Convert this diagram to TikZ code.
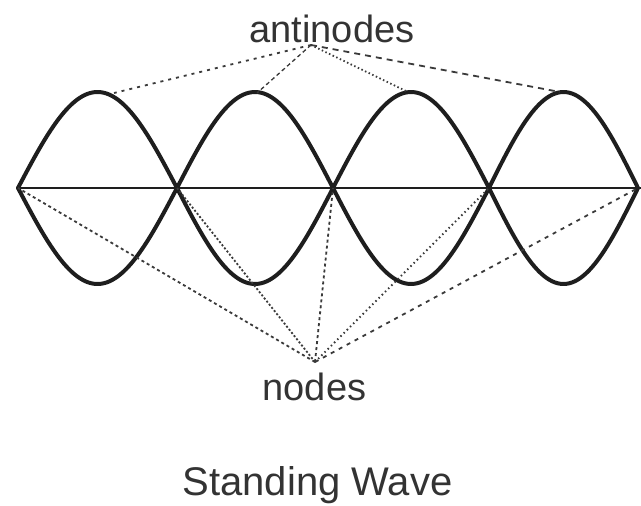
\documentclass[tikz,border=0pt]{standalone}
\usepackage{fontspec}
\setmainfont{Liberation Sans}
\usetikzlibrary{calc}
\definecolor{wdark}{HTML}{1E1E1E}
\definecolor{wgray}{HTML}{3A3A3A}
\definecolor{wtext}{HTML}{333333}
\tikzset{
  % thick string loops and the rest line
  wave/.style  = {line width=4pt, wdark, line join=round, line cap=round},
  axis/.style  = {line width=1.6pt, wdark},
  % pointer lines from the labels
  ptr/.style   = {line width=1.8pt, wgray, dash pattern=#1},
  ptr/.default = {on 2pt off 3pt},
  lbl/.style   = {font=\fontsize{38}{40}\selectfont, text=wtext, anchor=base, inner sep=0pt},
}
\begin{document}
\begin{tikzpicture}[x=1pt, y=-1pt]
\useasboundingbox (0,0) rectangle (641,506);
% nodes of the string
\foreach \n/\p in {0/18,1/177,2/333,3/489,4/638} {\coordinate (n\n) at (\p,188);}
\coordinate (rend) at (641,188);
\draw[axis] (n0) -- (rend);
% loops
\foreach \a/\b in {18/177,177/333,333/489,489/638} {
  \draw[wave] plot[domain=0:1, samples=60] ({\a+(\b-\a)*\x},{188-96*sin(180*\x)});
  \draw[wave] plot[domain=0:1, samples=60] ({\a+(\b-\a)*\x},{188+96*sin(180*\x)});
}
% antinodes
\coordinate (a1) at (114,93);
\coordinate (a2) at (257,93);
\coordinate (a3) at (408,92);
\coordinate (a4) at (560,92);
% labels
\node[lbl] (anti) at (332,42) {antinodes};
\node[lbl] (nlbl) at (314.5,400) {nodes};
\node[lbl, font=\fontsize{40}{42}\selectfont] (title) at (317.5,495) {Standing Wave};
\coordinate (apex) at (311,45);
\coordinate (foot) at (315,362);
% pointers up top
\draw[ptr={on 3pt off 5pt}] (apex) -- (a1);
\draw[ptr={on 4pt off 3pt}, line width=1.3pt] (apex) -- (a2);
\draw[ptr={on 1.5pt off 2.5pt}] (apex) -- (a3);
\draw[ptr={on 6pt off 5pt}] (apex) -- (a4);
% pointers down below
\draw[ptr={on 3pt off 3pt}] (foot) -- (n0);
\draw[ptr={on 2pt off 2pt}] (foot) -- (n1);
\draw[ptr={on 3pt off 3pt}] (foot) -- (n2);
\draw[ptr={on 1.5pt off 3pt}] (foot) -- (n3);
\draw[ptr={on 4pt off 5pt}] (foot) -- (n4);
\end{tikzpicture}
\end{document}
